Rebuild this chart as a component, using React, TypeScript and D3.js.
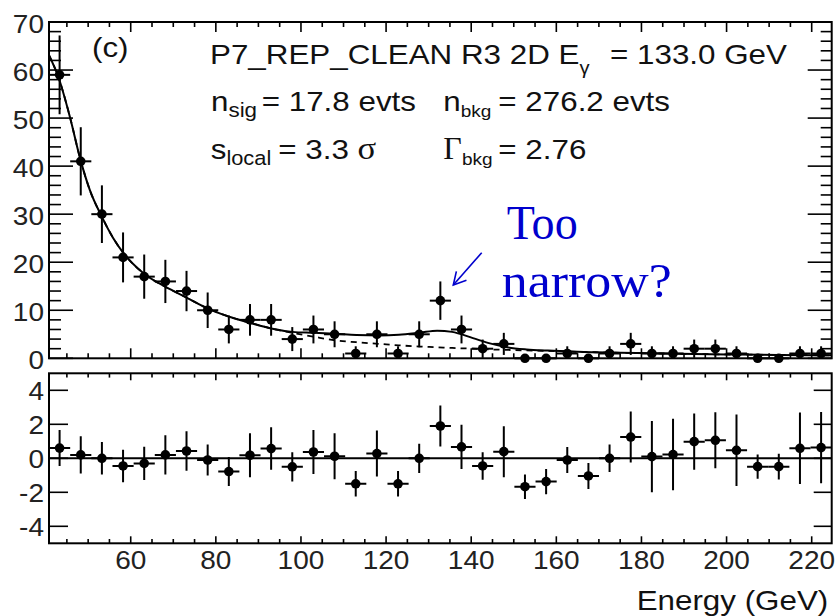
import React from 'react';
import * as d3 from 'd3';

// ---------- data ----------
const binCenters = [
  43.29, 48.26, 53.23, 58.2, 63.17, 68.14, 73.11, 78.08, 83.05, 88.02, 92.99, 97.96,
  102.93, 107.9, 112.87, 117.84, 122.81, 127.78, 132.75, 137.72, 142.69, 147.66,
  152.63, 157.6, 162.57, 167.54, 172.51, 177.48, 182.45, 187.42, 192.39, 197.36,
  202.33, 207.3, 212.27, 217.24, 222.21,
];
const binWidth = 4.97;
const counts = [
  59, 41, 30, 21, 17, 16, 14, 10, 6, 8, 8, 4, 6, 5, 1, 5, 1, 5, 12, 6, 2, 3,
  0, 0, 1, 0, 1, 3, 1, 1, 2, 2, 1, 0, 0, 1, 1,
];
const countErr = [
  8.2, 7.1, 6.0, 5.2, 4.6, 4.5, 4.2, 3.7, 2.9, 3.3, 3.3, 2.5, 2.9, 2.7, 1.5, 2.7, 1.5, 2.7,
  4.0, 2.9, 1.9, 2.3, 0, 0, 1.5, 0, 1.5, 2.3, 1.5, 1.5, 1.9, 1.9, 1.5, 0, 0, 1.5, 1.5,
];
const resid = [
  0.6, 0.2, 0.0, -0.45, -0.3, 0.2, 0.43, -0.1, -0.78, 0.18, 0.57, -0.5, 0.37, 0.12,
  -1.5, 0.28, -1.5, 0.0, 1.9, 0.67, -0.45, 0.39, -1.67, -1.37, -0.1, -1.04, 0.0, 1.25,
  0.1, 0.22, 0.98, 1.06, 0.47, -0.49, -0.49, 0.59, 0.63,
];
const residErr = [
  1.06, 1.09, 0.96, 0.96, 0.98, 1.15, 1.16, 0.91, 0.85, 1.3, 1.25, 0.86, 1.3, 1.35,
  0.75, 1.35, 0.75, 0.86, 1.2, 1.3, 0.81, 1.5, 0.72, 0.74, 0.76, 0.76, 0.81, 1.5,
  2.1, 2.1, 1.65, 1.65, 2.1, 0.72, 0.76, 2.1, 2.1,
];
// fitted model curves
const curveE = [
  40.8, 43.1, 45.7, 48.2, 50.4, 53.2, 55.9, 58.3, 63.0, 68.1, 73.2, 78.0, 83.0, 88.0,
  93.0, 98.0, 103, 108, 113, 118.5, 123, 128, 132, 135.5, 140.4, 144.4, 148.4, 153,
  158, 165, 175, 185, 200, 212, 224.7,
];
const totalModel = [
  63.1, 58.3, 50.3, 41.3, 35.0, 29.5, 25.0, 21.9, 17.7, 14.9, 12.6, 10.4, 8.7, 7.4,
  6.2, 5.5, 5.3, 5.1, 4.85, 4.75, 4.9, 5.35, 5.75, 5.5, 4.2, 3.1, 2.3, 1.85,
  1.6, 1.35, 1.15, 1.0, 0.8, 0.7, 0.62,
];
const bkgModel = [
  63.1, 58.3, 50.3, 41.3, 35.0, 29.5, 25.0, 21.9, 17.7, 14.9, 12.6, 10.4, 8.7, 7.4,
  6.2, 5.3, 4.5, 3.75, 3.35, 3.0, 2.7, 2.45, 2.3, 2.15, 2.0, 1.85, 1.75, 1.65,
  1.55, 1.35, 1.15, 1.0, 0.8, 0.7, 0.62,
];
const topYTicks = [0, 10, 20, 30, 40, 50, 60, 70];
const residYTicks = [-4, -2, 0, 2, 4];
const energyTicks = [60, 80, 100, 120, 140, 160, 180, 200, 220];

// ---------- layout ----------
const W = 837, H = 616;
const X0 = 49, X1 = 831.7;
const TY0 = 22, TY1 = 358.3;
const BY0 = 373.3, BY1 = 543.3;
const SX = 1.12;
const SANS = '"Liberation Sans", Arial, Helvetica, sans-serif';
const SERIF = '"Liberation Serif", "Times New Roman", serif';
const INK = '#111';

function SText(props: any) {
  const { x, y, anchor = 'start', size = 28, family = SANS, fill = INK, children, sx = SX } = props;
  return (
    <text
      transform={`translate(${x},${y}) scale(${sx},1)`}
      textAnchor={anchor}
      fontSize={size}
      fontFamily={family}
      fill={fill}
    >
      {children}
    </text>
  );
}

export default function App() {
  const x = d3.scaleLinear().domain([40.8, 224.7]).range([X0, X1]);
  const yT = d3.scaleLinear().domain([0, 70]).range([TY1, TY0]);
  const yB = d3.scaleLinear().domain([-5, 5]).range([BY1, BY0]);

  const minorE = d3.range(45, 224.7, 5);
  const minorTopY = d3.range(0, 70.01, 2);

  const lineGen = (vals: number[]) =>
    d3
      .line<number>()
      .x((_, i) => x(curveE[i]))
      .y((d) => yT(d))
      .curve(d3.curveMonotoneX)(vals) || '';

  const half = binWidth / 2;

  // arrow geometry
  const a0 = [481.7, 252.7];
  const a1 = [453.3, 285];
  const ang = Math.atan2(a0[1] - a1[1], a0[0] - a1[0]);
  const hl = 14;
  const h1 = [a1[0] + hl * Math.cos(ang + 0.5), a1[1] + hl * Math.sin(ang + 0.5)];
  const h2 = [a1[0] + hl * Math.cos(ang - 0.5), a1[1] + hl * Math.sin(ang - 0.5)];

  return (
    <svg
      width={W}
      height={H}
      style={{ position: 'absolute', left: 0, top: 0, background: '#fff' }}
    >
      <defs>
        <clipPath id="topclip">
          <rect x={X0} y={TY0} width={X1 - X0} height={TY1 - TY0} />
        </clipPath>
        <clipPath id="botclip">
          <rect x={X0} y={BY0} width={X1 - X0} height={BY1 - BY0} />
        </clipPath>
      </defs>
      <rect x={0} y={0} width={W} height={H} fill="#fff" />

      {/* ---------- top panel ---------- */}
      <g stroke="#000" strokeWidth={1.6}>
        {minorE.map((e) => {
          const major = energyTicks.includes(e);
          return (
            <g key={'tt' + e}>
              <line x1={x(e)} x2={x(e)} y1={TY0} y2={TY0 + (major ? 10 : 5)} />
              <line x1={x(e)} x2={x(e)} y1={TY1} y2={TY1 - (major ? 10 : 5)} />
            </g>
          );
        })}
        {minorTopY.map((v) => {
          const major = v % 10 === 0;
          return (
            <g key={'ty' + v}>
              <line x1={X0} x2={X0 + (major ? 24 : 12)} y1={yT(v)} y2={yT(v)} />
              <line x1={X1} x2={X1 - (major ? 24 : 11)} y1={yT(v)} y2={yT(v)} />
            </g>
          );
        })}
      </g>

      <g clipPath="url(#topclip)" fill="none" stroke="#000">
        <path d={lineGen(bkgModel)} strokeWidth={1.8} strokeDasharray="6,5" />
        <path d={lineGen(totalModel)} strokeWidth={2} />
      </g>

      <g stroke="#000" strokeWidth={2}>
        {binCenters.map((c, i) => (
          <g key={'p' + i}>
            <line x1={x(c - half)} x2={x(c + half)} y1={yT(counts[i])} y2={yT(counts[i])} />
            {countErr[i] > 0 && (
              <line
                x1={x(c)}
                x2={x(c)}
                y1={yT(counts[i] + countErr[i])}
                y2={yT(Math.max(0, counts[i] - countErr[i]))}
              />
            )}
            <circle cx={x(c)} cy={yT(counts[i])} r={4.8} fill="#000" stroke="none" />
          </g>
        ))}
      </g>

      <rect x={X0} y={TY0} width={X1 - X0} height={TY1 - TY0} fill="none" stroke="#000" strokeWidth={2} />

      {topYTicks.map((v) => (
        <SText key={'tl' + v} x={44} y={yT(v) + 11} anchor="end" size={25} fill="#222">
          {v}
        </SText>
      ))}

      {/* header texts */}
      <SText x={92} y={57} size={28}>(c)</SText>
      <SText x={210} y={63.5} size={28}>
        P7_REP_CLEAN R3 2D E
        <tspan fontSize={18} dy={10}>γ</tspan>
      </SText>
      <SText x={610} y={63.5} size={28}>= 133.0 GeV</SText>

      <SText x={211} y={110.5} size={28}>
        n<tspan fontSize={20} dy={6}>sig</tspan>
      </SText>
      <SText x={261.7} y={110.5} size={28}>= 17.8 evts</SText>
      <SText x={443.3} y={110.5} size={28}>
        n<tspan fontSize={17} dy={6}>bkg</tspan>
      </SText>
      <SText x={498.3} y={110.5} size={28}>= 276.2 evts</SText>

      <SText x={210.7} y={159} size={28}>
        s<tspan fontSize={19.5} dy={6}>local</tspan>
      </SText>
      <SText x={278.3} y={159} size={28}>
        = 3.3 <tspan fontFamily={SERIF} fontSize={31}>σ</tspan>
      </SText>
      <SText x={443.3} y={159} size={32} family={SERIF} sx={1}>
        Γ
      </SText>
      <SText x={462} y={165} size={17}>bkg</SText>
      <SText x={498.3} y={159} size={28}>= 2.76</SText>

      {/* annotation */}
      <text x={506.7} y={239.3} fontFamily={SERIF} fontSize={48} fill="#0000cd" textLength={71} lengthAdjust="spacingAndGlyphs">
        Too
      </text>
      <text x={501.7} y={296.7} fontFamily={SERIF} fontSize={48} fill="#0000cd" textLength={170} lengthAdjust="spacingAndGlyphs">
        narrow?
      </text>
      <g stroke="#0000cd" strokeWidth={1.6} fill="none">
        <line x1={a0[0]} y1={a0[1]} x2={a1[0]} y2={a1[1]} />
        <polyline points={`${h1[0]},${h1[1]} ${a1[0]},${a1[1]} ${h2[0]},${h2[1]}`} />
      </g>

      {/* ---------- residual panel ---------- */}
      <g stroke="#000" strokeWidth={1.6}>
        {minorE.map((e) => {
          const major = energyTicks.includes(e);
          return (
            <g key={'bt' + e}>
              <line x1={x(e)} x2={x(e)} y1={BY0} y2={BY0 + (major ? 7 : 4.3)} />
              <line x1={x(e)} x2={x(e)} y1={BY1} y2={BY1 - (major ? 7 : 4.3)} />
            </g>
          );
        })}
        {residYTicks.map((v) => (
          <g key={'by' + v}>
            <line x1={X0} x2={X0 + 19} y1={yB(v)} y2={yB(v)} />
            <line x1={X1} x2={X1 - 18} y1={yB(v)} y2={yB(v)} />
          </g>
        ))}
      </g>
      <line x1={X0} x2={X1} y1={yB(0)} y2={yB(0)} stroke="#000" strokeWidth={2} />

      <g stroke="#000" strokeWidth={2} clipPath="url(#botclip)">
        {binCenters.map((c, i) => (
          <g key={'r' + i}>
            <line x1={x(c - half)} x2={x(c + half)} y1={yB(resid[i])} y2={yB(resid[i])} />
            <line
              x1={x(c)}
              x2={x(c)}
              y1={yB(resid[i] + residErr[i])}
              y2={yB(resid[i] - residErr[i])}
            />
            <circle cx={x(c)} cy={yB(resid[i])} r={4.8} fill="#000" stroke="none" />
          </g>
        ))}
      </g>

      <rect x={X0} y={BY0} width={X1 - X0} height={BY1 - BY0} fill="none" stroke="#000" strokeWidth={2} />

      {residYTicks.map((v) => (
        <SText key={'bl' + v} x={44} y={yB(v) + 10} anchor="end" size={25} fill="#222">
          {v}
        </SText>
      ))}
      {energyTicks.map((e) => (
        <SText key={'xl' + e} x={x(e)} y={569} anchor="middle" size={25} fill="#222">
          {e}
        </SText>
      ))}
      <SText x={828.3} y={610} anchor="end" size={28}>
        Energy (GeV)
      </SText>
    </svg>
  );
}
